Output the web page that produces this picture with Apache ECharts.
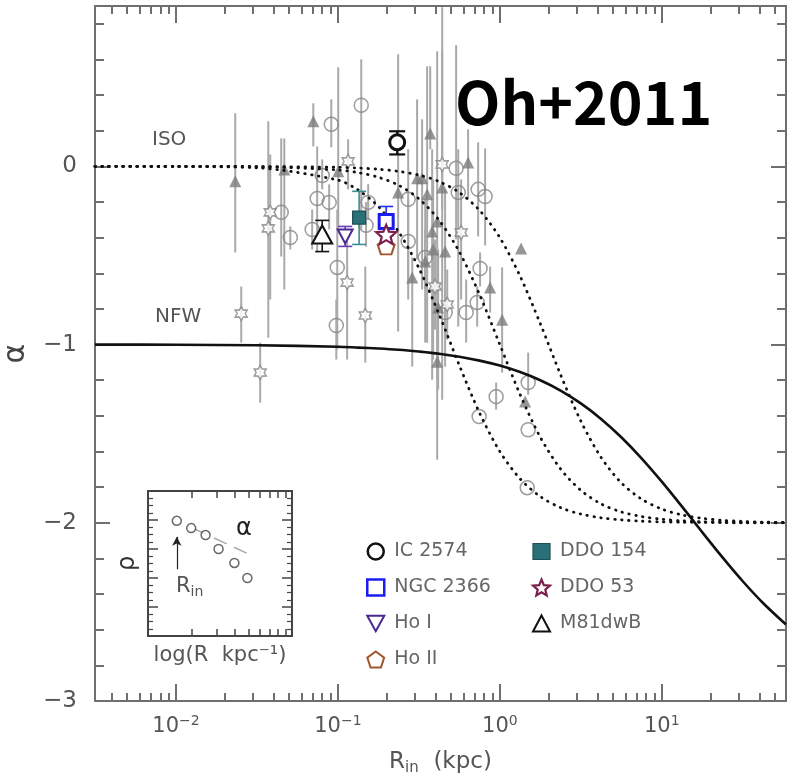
<!DOCTYPE html>
<html>
<head>
<meta charset="utf-8">
<script src="https://cdn.jsdelivr.net/npm/echarts@6/dist/echarts.min.js"></script>
<style>
html, body { margin: 0; padding: 0; background: #fff; }
#chart { width: 787px; height: 779px; }
</style>
</head>
<body>
<div id="chart"></div>
<script>
// ---- data (x values are log10 of R_in in kpc) ----
const xLabelValues = [-2, -1, 0, 1]
const yLabelValues = [-3, -2, -1, 0]

// model curves
const curveLogR = [-2.5, -2, -1.5, -1, -0.875, -0.75, -0.625, -0.5, -0.375, -0.25, -0.125, 0, 0.125, 0.25, 0.375, 0.5, 0.625, 0.75, 0.875, 1, 1.125, 1.25, 1.375, 1.5, 1.625, 1.767]
const isoA = [0, -0.001, -0.008, -0.077, -0.133, -0.225, -0.367, -0.571, -0.831, -1.117, -1.384, -1.600, -1.753, -1.853, -1.915, -1.951, -1.972, -1.984, -1.991, -1.995, -1.997, -1.998, -1.999, -2.0, -2.0, -2.0]
const isoB = [0, 0, -0.002, -0.020, -0.035, -0.061, -0.106, -0.182, -0.302, -0.480, -0.720, -1.000, -1.280, -1.520, -1.698, -1.818, -1.894, -1.939, -1.965, -1.980, -1.989, -1.994, -1.996, -1.998, -1.999, -1.999]
const isoC = [0, 0, -0.001, -0.005, -0.009, -0.016, -0.028, -0.049, -0.085, -0.147, -0.247, -0.400, -0.616, -0.883, -1.169, -1.429, -1.633, -1.776, -1.867, -1.923, -1.956, -1.975, -1.986, -1.992, -1.996, -1.998]
const nfw = [-1.000, -1.001, -1.004, -1.012, -1.017, -1.022, -1.029, -1.039, -1.051, -1.068, -1.090, -1.118, -1.154, -1.200, -1.258, -1.330, -1.417, -1.520, -1.638, -1.769, -1.909, -2.053, -2.194, -2.328, -2.450, -2.571]

// grey literature points: filled triangles
const triLogR = [-1.634, -1.331, -1.152, -0.998, -0.430, -0.196, -0.511, -0.480, -0.356, -0.449, -0.628, -0.418, -0.387, -0.412, -0.461, -0.338, -0.541, -0.060, -0.381, 0.014, -0.387, 0.131, 0.156]
const triAlpha = [-0.084, -0.017, 0.253, -0.028, 0.185, 0.022, -0.067, -0.067, -0.118, -0.157, -0.146, -0.365, -0.309, -0.466, -0.534, -0.478, -0.624, -0.680, -0.792, -0.860, -1.096, -0.461, -1.320]
const triLo = [-0.483, -0.691, 0.112, -0.354, 0.096, -0.185, -0.522, -0.691, -1.309, -0.989, -0.927, -1.197, -1.197, -1.084, -0.989, -1.124, -1.124, -0.820, -1.253, -1.157, -1.646, null, null]
const triHi = [0.298, 0.157, 0.354, 0.556, 0.562, 0.208, 0.376, 0.264, 0.893, 0.562, 0.629, 0.096, 0.646, -0.073, -0.185, -0.129, -0.511, -0.562, -0.466, -0.567, -0.916, null, null]

// open circles
const circLogR = [-1.350, -1.294, -1.041, -1.128, -1.054, -1.159, -1.097, -1.004, -1.010, -0.856, -0.813, -0.826, -0.270, -0.257, -0.134, -0.091, -0.566, -0.566, -0.461, -0.122, -0.140, -0.208, -0.338, 0.175, -0.023, -0.128, 0.175, 0.169]
const circAlpha = [-0.258, -0.399, 0.236, -0.180, -0.202, -0.354, -0.051, -0.567, -0.893, 0.343, -0.202, -0.331, -0.011, -0.146, -0.129, -0.169, -0.185, -0.421, -0.511, -0.573, -0.764, -0.820, -0.820, -1.213, -1.292, -1.404, -1.478, -1.803]
const circLo = [-0.506, -0.466, 0.107, -0.483, -0.354, -0.466, -0.129, -1.028, -1.084, -0.354, -0.300, -0.450, -0.410, -0.899, -0.393, -0.444, -0.663, -0.747, -0.691, -0.674, -0.899, -0.989, -0.972, -1.281, -1.365, null, null, null]
const circHi = [0.157, -0.337, 0.376, 0.112, -0.101, -0.242, 0.039, -0.242, -0.747, 0.601, -0.100, -0.200, 0.680, 0.096, 0.135, 0.101, 0.096, -0.185, -0.354, -0.483, -0.674, -0.635, -0.691, -1.045, -1.213, null, null, null]

// open stars
const starLogR = [-1.597, -1.480, -1.418, -1.430, -0.937, -0.943, -0.831, -0.356, -0.239, -0.400, -0.325]
const starAlpha = [-0.826, -1.157, -0.258, -0.348, 0.028, -0.652, -0.837, 0.011, -0.371, -0.674, -0.775]
const starLo = [-0.989, -1.326, -0.747, -0.961, -0.129, -1.084, -1.101, -0.242, -0.747, -0.916, -0.972]
const starHi = [-0.674, -0.989, 0.067, 0.253, 0.152, -0.354, -0.562, 0.646, -0.073, -0.410, -0.579]

// THINGS dwarfs
const galaxies = ['IC 2574', 'NGC 2366', 'Ho I', 'Ho II', 'DDO 154', 'DDO 53', 'M81dwB']
const galLogR = [-0.634, -0.702, -0.955, -0.702, -0.869, -0.702, -1.097]
const galAlpha = [0.135, -0.309, -0.393, -0.449, -0.287, -0.382, -0.382]
const galLo = [0.067, -0.390, -0.449, -0.470, -0.438, -0.444, -0.478]
const galHi = [0.197, -0.225, -0.337, -0.430, -0.140, -0.320, -0.303]

// inset sketch
const insetX = [0.20, 0.30, 0.40, 0.49, 0.60, 0.69]
const insetRho = [3.97, 3.72, 3.48, 3.00, 2.52, 2.00]
const insetSlopeX = [0.32, 0.71]
const insetSlopeY = [3.70, 2.80]
const insetArrow = [[0.20, 2.30], [0.20, 3.42]]

// ---- styles ----
const axisGray = '#6f6f6f'
const labelGray = '#555'
const pointGray = '#858585'
const barGray = '#a9a9a9'
const font = 'DejaVu Sans'
const galColors = ['#111', '#1c1cf0', '#4a2a90', '#a0562c', '#1f4f55', '#7a1f4c', '#111']
const galFill = ['#fff', '#fff', '#fff', '#fff', '#2a7078', '#fff', '#fff']
const galBarColors = ['#111', '#2030ff', '#6a3cb8', '#b86a30', '#3a8e96', '#a3306e', '#111']
const galCap = [8, 7, 7, 5, 7, 7, 7]
const starPath = 'path://M10,0 L12.9,4.98 L18.66,5 L15.8,10 L18.66,15 L12.9,15.02 L10,20 L7.1,15.02 L1.34,15 L4.2,10 L1.34,5 L7.1,4.98 Z'
const star5Path = 'path://M10,0 L12.65,6.36 L19.51,6.91 L14.28,11.39 L15.88,18.09 L10,14.5 L4.12,18.09 L5.72,11.39 L0.49,6.91 L7.35,6.36 Z'
const pentPath = 'path://M10,0 L19.51,6.91 L15.88,18.09 L4.12,18.09 L0.49,6.91 Z'
const downTriPath = 'path://M0,0 L20,0 L10,18 Z'
const galSymbol = ['circle', 'rect', downTriPath, pentPath, 'rect', star5Path, 'triangle']
const galSize = [[15, 15], [14, 14], [15, 14], [17, 16], [13, 13], [20, 19], [20, 18]]
const galBorder = [3, 3, 2, 2, 1.2, 2.2, 2]

// tick positions
const xMinor = []
for (let d = -3; d <= 1; d++) {
  for (let k = 2; k <= 9; k++) {
    const v = d + Math.log10(k)
    if (v > -2.5 && v < 1.767) xMinor.push(v)
  }
}
const yMinor = []
for (let i = -15; i <= 4; i++) {
  if (i % 5 !== 0) yMinor.push(i * 0.2)
}
const insetMinorX = [2, 3, 4, 5, 6, 7, 8, 9].map(k => Math.log10(k))

const chart = echarts.init(document.getElementById('chart'))

const zip = (xs, ys) => xs.map((x, i) => [x, ys[i]])
const barData = (xs, lo, hi) => xs.map((x, i) => [x, lo[i], hi[i]]).filter(d => d[1] !== null)

const frame = (extra) => Object.assign({
  type: 'value',
  splitLine: { show: false },
  axisLine: { show: true, onZero: false, lineStyle: { color: axisGray, width: 2 } },
  axisLabel: { show: false },
  axisTick: { show: false }
}, extra)

const noLine = { show: false, onZero: false }
const xMain = { gridIndex: 0, min: -2.5, max: 1.767 }
const yMain = { gridIndex: 0, min: -3, max: 0.9 }
const majorTick = (vals, len) => ({ show: true, inside: true, length: len, customValues: vals, lineStyle: { color: axisGray, width: 2 } })
const insetLine = { show: true, onZero: false, lineStyle: { color: '#444', width: 2 } }

const xAxes = [
  frame(Object.assign({}, xMain, {
    position: 'bottom',
    axisTick: majorTick(xLabelValues, 17),
    axisLabel: {
      show: true, customValues: xLabelValues, margin: 13,
      formatter: v => '{b|10}{s|' + (v < 0 ? '\u2212' + Math.abs(v) : v) + '}',
      rich: {
        b: { fontFamily: font, fontSize: 21, color: labelGray, lineHeight: 26 },
        s: { fontFamily: font, fontSize: 14, color: labelGray, lineHeight: 12, verticalAlign: 'top' }
      }
    },
    name: '{a|R}{sub|in}{a|  (kpc)}',
    nameLocation: 'middle',
    nameGap: 47,
    nameTextStyle: {
      rich: {
        a: { fontFamily: font, fontSize: 23, color: labelGray, lineHeight: 28 },
        sub: { fontFamily: font, fontSize: 15, color: labelGray, lineHeight: 10, verticalAlign: 'bottom' }
      }
    }
  })),
  frame(Object.assign({}, xMain, { position: 'bottom', axisLine: noLine, axisTick: majorTick(xMinor, 8) })),
  frame(Object.assign({}, xMain, { position: 'top', axisTick: majorTick(xLabelValues, 17) })),
  frame(Object.assign({}, xMain, { position: 'top', axisLine: noLine, axisTick: majorTick(xMinor, 8) })),
  // inset
  frame({
    gridIndex: 1, min: 0, max: 1, position: 'bottom',
    axisLine: insetLine,
    axisTick: { show: true, inside: true, length: 7, customValues: insetMinorX, lineStyle: { color: '#444', width: 1.5 } },
    name: 'log(R  kpc\u207B\u00B9)', nameLocation: 'middle', nameGap: 9,
    nameTextStyle: { fontFamily: font, fontSize: 21, color: labelGray, verticalAlign: 'top' }
  }),
  frame({
    gridIndex: 1, min: 0, max: 1, position: 'top',
    axisLine: insetLine,
    axisTick: { show: true, inside: true, length: 7, customValues: insetMinorX, lineStyle: { color: '#444', width: 1.5 } }
  })
]

const yAxes = [
  frame(Object.assign({}, yMain, {
    position: 'left',
    axisTick: majorTick(yLabelValues, 15),
    axisLabel: {
      show: true, customValues: yLabelValues, margin: 18,
      fontFamily: font, fontSize: 23, color: labelGray,
      formatter: v => (v < 0 ? '\u2212' + Math.abs(v) : String(v))
    },
    name: '\u03B1', nameLocation: 'middle', nameRotate: 90, nameGap: 64,
    nameTextStyle: { fontFamily: font, fontSize: 30, color: '#444' }
  })),
  frame(Object.assign({}, yMain, { position: 'left', axisLine: noLine, axisTick: majorTick(yMinor, 9) })),
  frame(Object.assign({}, yMain, { position: 'right', axisTick: majorTick(yLabelValues, 15) })),
  frame(Object.assign({}, yMain, { position: 'right', axisLine: noLine, axisTick: majorTick(yMinor, 9) })),
  // inset
  frame({
    gridIndex: 1, min: 0, max: 5, interval: 1, position: 'left',
    axisLine: insetLine,
    axisTick: { show: true, inside: true, length: 10, lineStyle: { color: '#444', width: 1.5 } },
    minorTick: { show: true, splitNumber: 4, length: 5, lineStyle: { color: '#444', width: 1.2 } },
    name: '\u03C1', nameLocation: 'middle', nameRotate: 90, nameGap: 8,
    nameTextStyle: { fontFamily: font, fontSize: 24, color: '#333' }
  }),
  frame({
    gridIndex: 1, min: 0, max: 5, interval: 1, position: 'right',
    axisLine: insetLine,
    axisTick: { show: true, inside: true, length: 10, lineStyle: { color: '#444', width: 1.5 } },
    minorTick: { show: true, splitNumber: 4, length: 5, lineStyle: { color: '#444', width: 1.2 } }
  })
]

const greyBars = [].concat(
  barData(triLogR, triLo, triHi),
  barData(circLogR, circLo, circHi),
  barData(starLogR, starLo, starHi)
)

const curve = (ys, dashed) => ({
  type: 'line', xAxisIndex: 0, yAxisIndex: 0,
  data: zip(curveLogR, ys), smooth: 0.3, symbol: 'none', z: 4,
  lineStyle: dashed
    ? { color: '#111', width: 2.8, type: [0.5, 6.5], cap: 'round' }
    : { color: '#111', width: 2.6 }
})

const series = [
  {
    type: 'custom', xAxisIndex: 0, yAxisIndex: 0, z: 1, silent: true,
    data: greyBars,
    renderItem: (params, api) => {
      const a = api.coord([api.value(0), api.value(1)])
      const b = api.coord([api.value(0), api.value(2)])
      return { type: 'line', shape: { x1: a[0], y1: a[1], x2: b[0], y2: b[1] }, style: { stroke: barGray, lineWidth: 2 } }
    }
  },
  {
    type: 'scatter', xAxisIndex: 0, yAxisIndex: 0, z: 2,
    data: zip(circLogR, circAlpha), symbol: 'circle', symbolSize: 14,
    itemStyle: { color: 'rgba(255,255,255,0)', borderColor: pointGray, borderWidth: 1.5 }
  },
  {
    type: 'scatter', xAxisIndex: 0, yAxisIndex: 0, z: 2,
    data: zip(starLogR, starAlpha), symbol: starPath, symbolSize: [12, 14],
    itemStyle: { color: '#fff', borderColor: pointGray, borderWidth: 1.5 }
  },
  {
    type: 'scatter', xAxisIndex: 0, yAxisIndex: 0, z: 2,
    data: zip(triLogR, triAlpha), symbol: 'triangle', symbolSize: [12, 12],
    itemStyle: { color: '#7c7c7c' }
  },
  curve(isoA, true),
  curve(isoB, true),
  curve(isoC, true),
  curve(nfw, false),
  {
    type: 'custom', xAxisIndex: 0, yAxisIndex: 0, z: 5, silent: true,
    data: galLogR.map((x, i) => [x, galLo[i], galHi[i]]),
    renderItem: (params, api) => {
      const i = params.dataIndex
      const a = api.coord([api.value(0), api.value(1)])
      const b = api.coord([api.value(0), api.value(2)])
      const w = galCap[i]
      const style = { stroke: galBarColors[i], lineWidth: i === 0 ? 2.2 : 1.6 }
      return {
        type: 'group', children: [
          { type: 'line', shape: { x1: a[0], y1: a[1], x2: b[0], y2: b[1] }, style: style },
          { type: 'line', shape: { x1: a[0] - w, y1: a[1], x2: a[0] + w, y2: a[1] }, style: style },
          { type: 'line', shape: { x1: b[0] - w, y1: b[1], x2: b[0] + w, y2: b[1] }, style: style }
        ]
      }
    }
  }
]

// draw order: NGC 2366 square, Ho II pentagon, DDO 53 star on top
const drawOrder = [6, 2, 4, 1, 3, 5, 0]
drawOrder.forEach(i => {
  series.push({
    name: galaxies[i], type: 'scatter', xAxisIndex: 0, yAxisIndex: 0, z: 6,
    data: [[galLogR[i], galAlpha[i]]],
    symbol: galSymbol[i], symbolSize: galSize[i],
    itemStyle: { color: galFill[i], borderColor: galColors[i], borderWidth: galBorder[i], opacity: 1 }
  })
})

// inset sketch
series.push({
  type: 'line', xAxisIndex: 4, yAxisIndex: 4, z: 3,
  data: zip(insetSlopeX, insetSlopeY), symbol: 'none',
  lineStyle: { color: '#aaa', width: 1.5, type: [14, 8] },
  markLine: {
    silent: true, symbol: ['none', 'arrow'], symbolSize: [7, 9],
    label: { show: false },
    lineStyle: { color: '#222', width: 1.2, type: 'solid' },
    data: [[{ coord: insetArrow[0] }, { coord: insetArrow[1] }]]
  }
})
series.push({
  type: 'scatter', xAxisIndex: 4, yAxisIndex: 4, z: 4,
  data: zip(insetX, insetRho), symbol: 'circle', symbolSize: 9,
  itemStyle: { color: '#fff', borderColor: '#444', borderWidth: 1.5 }
})

const legendText = { fontFamily: font, fontSize: 19, color: '#666', lineHeight: 18, padding: [0, 0, 0, 5] }
const legendItems = names => names.map(n => {
  const i = galaxies.indexOf(n)
  return { name: n, itemStyle: { borderWidth: Math.min(galBorder[i], 2.5) } }
})

chart.setOption({
  animation: false,
  backgroundColor: '#fff',
  grid: [
    { left: 95, top: 6, width: 691, height: 695, outerBoundsMode: 'none', containLabel: false },
    { left: 148, top: 491, width: 144, height: 145, outerBoundsMode: 'none', containLabel: false }
  ],
  xAxis: xAxes,
  yAxis: yAxes,
  legend: [
    {
      data: legendItems(galaxies.slice(0, 4)), orient: 'vertical', left: 361, top: 537,
      itemWidth: 17, itemHeight: 16, itemGap: 17, textStyle: legendText
    },
    {
      data: legendItems(galaxies.slice(4)), orient: 'vertical', left: 527, top: 537,
      itemWidth: 17, itemHeight: 16, itemGap: 17, textStyle: legendText
    }
  ],
  graphic: [
    { type: 'text', left: 152, top: 130, style: { text: 'ISO', font: '20px "DejaVu Sans"', fill: labelGray } },
    { type: 'text', left: 155, top: 307, style: { text: 'NFW', font: '20px "DejaVu Sans"', fill: labelGray } },
    { type: 'text', left: 455, top: 73, style: { text: 'Oh+2011', font: 'bold 59px "Noto Sans CJK SC"', fill: '#000' } },
    {
      type: 'text', left: 176, top: 576,
      style: {
        text: '{a|R}{b|in}',
        rich: {
          a: { fontFamily: font, fontSize: 21, fill: labelGray, lineHeight: 26 },
          b: { fontFamily: font, fontSize: 14, fill: labelGray, lineHeight: 10, verticalAlign: 'bottom' }
        }
      }
    },
    { type: 'text', left: 236, top: 517, style: { text: '\u03B1', font: '24px "DejaVu Sans"', fill: '#222' } }
  ],
  series: series
})
</script>
</body>
</html>
